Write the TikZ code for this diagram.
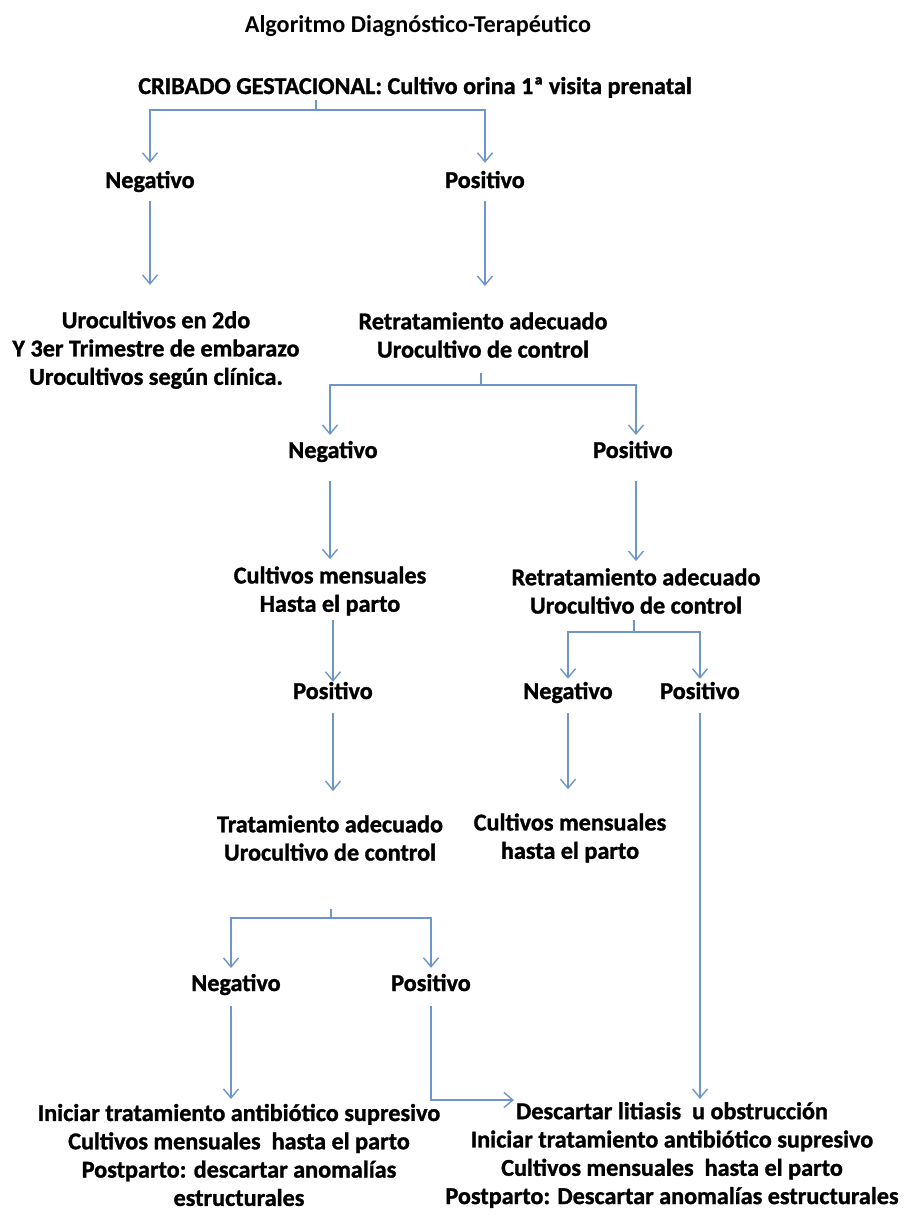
\documentclass[tikz,border=0pt]{standalone}
\usepackage{fontspec}
\setmainfont{Carlito}[BoldFeatures={FakeBold=1.2}]
\newfontfamily\titlefont{Carlito}
\usetikzlibrary{arrows.meta}
\definecolor{arrowblue}{RGB}{110,150,200}
\begin{document}
\begin{tikzpicture}[x=1pt,y=-1pt,
  txt/.style={inner sep=0pt, align=center, font=\fontsize{24.2}{28.3}\selectfont\bfseries},
  one/.style={txt, text height=17pt, text depth=5pt},
  ln/.style={draw=arrowblue, line width=1.4pt},
  arr/.style={ln, -{Straight Barb[length=9pt,width=15pt,line width=1.4pt]}}]
\useasboundingbox[fill=white] (0,0) rectangle (904,1226);

\node[inner sep=0pt, font=\fontsize{24.2}{28}\selectfont\titlefont\bfseries] (title) at (418,26) {Algoritmo Diagnóstico-Terapéutico};
\node[one] (crib) at (415,88) {CRIBADO GESTACIONAL: Cultivo orina 1ª visita prenatal};
\node[one] (neg1) at (150,182) {Negativo};
\node[one] (pos1) at (485,182) {Positivo};
\node[txt] (uro1) at (156,350) {Urocultivos en 2do\\Y 3er Trimestre de embarazo\\Urocultivos según clínica.};
\node[txt] (ret1) at (483,335) {Retratamiento adecuado\\Urocultivo de control};
\node[one] (neg2) at (333,452) {Negativo};
\node[one] (pos2) at (633,452) {Positivo};
\node[txt] (cul1) at (330,591) {Cultivos mensuales\\Hasta el parto};
\node[txt] (ret2) at (636,591) {Retratamiento adecuado\\Urocultivo de control};
\node[one] (posL) at (333,693) {Positivo};
\node[one] (neg3) at (568,693) {Negativo};
\node[one] (pos3) at (700,693) {Positivo};
\node[txt] (trat) at (330,838) {Tratamiento adecuado\\Urocultivo de control};
\node[txt] (cul2) at (570,838) {Cultivos mensuales\\hasta el parto};
\node[one] (neg4) at (236,985) {Negativo};
\node[one] (pos4) at (431,985) {Positivo};
\node[txt] (fin1) at (239,1155) {Iniciar tratamiento antibiótico supresivo\\Cultivos mensuales\ \ hasta el parto\\Postparto: descartar anomalías\\estructurales};
\node[txt] (fin2) at (672,1155) {Descartar litiasis\ \ u obstrucción\\Iniciar tratamiento antibiótico supresivo\\Cultivos mensuales\ \ hasta el parto\\Postparto: Descartar anomalías estructurales};

% branch 1
\coordinate (b1) at (316,110);
\draw[ln] (316,100) -- (b1);
\draw[arr, shorten >=8pt] (b1) -| (neg1.north);
\draw[arr, shorten >=8pt] (b1) -| (pos1.north);
\draw[arr, shorten <=8pt, shorten >=26pt] (neg1.south) -- (neg1.south |- uro1.north);
\draw[arr, shorten <=8pt, shorten >=26pt] (pos1.south) -- (pos1.south |- ret1.north);
% branch 2
\coordinate (b2) at (481,385);
\draw[ln] (481,373) -- (b2);
\draw[arr, shorten >=6pt] (b2) -| (330,441);
\draw[arr, shorten >=6pt] (b2) -| (636,441);
\draw[arr, shorten <=18pt, shorten >=7pt] (330,463) -- (cul1.north);
\draw[arr, shorten <=18pt, shorten >=7pt] (636,463) -- (ret2.north);
% branch 3
\coordinate (b3) at (634,632);
\draw[ln] (634,620) -- (b3);
\draw[arr, shorten >=3pt] (b3) -| (neg3.north);
\draw[arr, shorten >=3pt] (b3) -| (pos3.north);
\draw[arr, shorten <=4pt, shorten >=0pt] (cul1.south -| posL.north) -- (posL.north);
\draw[arr, shorten <=9pt, shorten >=24pt] (posL.south) -- (trat.north -| posL.south);
\draw[arr, shorten <=9pt, shorten >=24pt] (neg3.south) -- (cul2.north -| neg3.south);
\draw[arr, shorten <=9pt, shorten >=3pt] (pos3.south) -- (pos3.south |- fin2.north);
% branch 4
\coordinate (b4) at (331,918);
\draw[ln] (331,909) -- (b4);
\draw[arr, shorten >=6pt] (b4) -| (231,974);
\draw[arr, shorten >=6pt] (b4) -| (pos4.north);
\draw[arr, shorten <=10pt, shorten >=3pt] (231,996) -- (231,1102);
\coordinate (e4) at (514,1100);
\draw[arr, shorten <=10pt] (pos4.south) |- (e4);
\end{tikzpicture}
\end{document}
